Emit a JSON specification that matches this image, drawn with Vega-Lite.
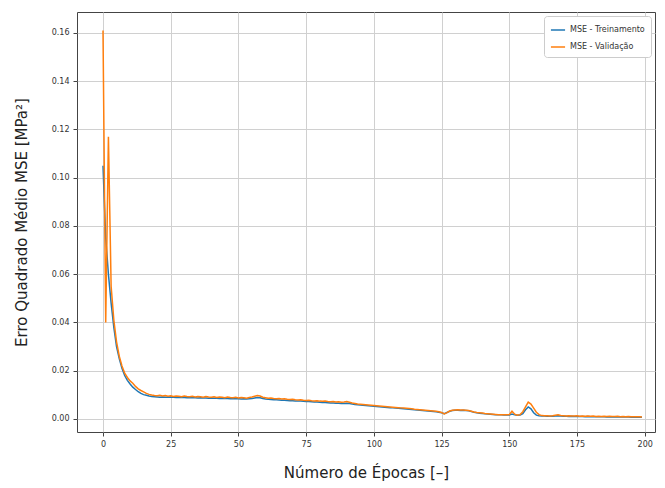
{
  "$schema": "https://vega.github.io/schema/vega-lite/v6.json",
  "width": 578,
  "height": 420,
  "autosize": {"type": "none"},
  "padding": {"left": 77, "top": 12, "right": 10, "bottom": 56},
  "background": "white",
  "config": {
    "font": "DejaVu Sans",
    "view": {"stroke": "#444444", "strokeWidth": 1},
    "axis": {
      "gridColor": "#d0d0d0",
      "gridWidth": 1,
      "domain": false,
      "tickColor": "#444444",
      "tickSize": 4,
      "labelFontSize": 8,
      "labelColor": "#333333",
      "titleFontSize": 15,
      "titleFontWeight": "normal",
      "titleColor": "#222222"
    }
  },
  "data": {
    "values": [
      {"e":0,"t":0.105,"v":0.161},{"e":1,"t":0.075,"v":0.040},{"e":2,"t":0.060,"v":0.117},{"e":3,"t":0.048,"v":0.055},
      {"e":4,"t":0.038,"v":0.041},{"e":5,"t":0.030,"v":0.032},{"e":6,"t":0.025,"v":0.026},{"e":7,"t":0.021,"v":0.022},
      {"e":8,"t":0.018,"v":0.019},{"e":9,"t":0.0160,"v":0.0172},{"e":10,"t":0.0145,"v":0.0158},{"e":11,"t":0.0132,"v":0.0148},
      {"e":12,"t":0.0122,"v":0.0135},{"e":13,"t":0.0113,"v":0.0125},{"e":14,"t":0.0106,"v":0.0118},{"e":15,"t":0.0101,"v":0.0112},
      {"e":16,"t":0.0098,"v":0.0106},{"e":17,"t":0.0095,"v":0.0102},{"e":18,"t":0.0093,"v":0.0099},{"e":19,"t":0.0092,"v":0.0097},
      {"e":20,"t":0.0091,"v":0.0096},{"e":21,"t":0.0090,"v":0.0098},{"e":22,"t":0.0091,"v":0.0095},{"e":23,"t":0.0090,"v":0.0097},
      {"e":24,"t":0.0090,"v":0.0094},{"e":25,"t":0.0091,"v":0.0096},{"e":26,"t":0.0090,"v":0.0093},{"e":27,"t":0.0089,"v":0.0095},
      {"e":28,"t":0.0090,"v":0.0094},{"e":29,"t":0.0089,"v":0.0092},{"e":30,"t":0.0089,"v":0.0095},{"e":31,"t":0.0088,"v":0.0093},
      {"e":32,"t":0.0089,"v":0.0092},{"e":33,"t":0.0088,"v":0.0094},{"e":34,"t":0.0088,"v":0.0091},{"e":35,"t":0.0087,"v":0.0093},
      {"e":36,"t":0.0088,"v":0.0092},{"e":37,"t":0.0087,"v":0.0090},{"e":38,"t":0.0087,"v":0.0093},{"e":39,"t":0.0086,"v":0.0091},
      {"e":40,"t":0.0087,"v":0.0090},{"e":41,"t":0.0086,"v":0.0092},{"e":42,"t":0.0086,"v":0.0089},{"e":43,"t":0.0085,"v":0.0091},
      {"e":44,"t":0.0086,"v":0.0090},{"e":45,"t":0.0085,"v":0.0088},{"e":46,"t":0.0085,"v":0.0091},{"e":47,"t":0.0084,"v":0.0089},
      {"e":48,"t":0.0085,"v":0.0088},{"e":49,"t":0.0084,"v":0.0090},{"e":50,"t":0.0084,"v":0.0087},{"e":51,"t":0.0083,"v":0.0089},
      {"e":52,"t":0.0084,"v":0.0088},{"e":53,"t":0.0083,"v":0.0086},{"e":54,"t":0.0084,"v":0.0089},{"e":55,"t":0.0085,"v":0.0091},
      {"e":56,"t":0.0087,"v":0.0094},{"e":57,"t":0.0089,"v":0.0097},{"e":58,"t":0.0088,"v":0.0095},{"e":59,"t":0.0085,"v":0.0090},
      {"e":60,"t":0.0083,"v":0.0088},{"e":61,"t":0.0082,"v":0.0086},{"e":62,"t":0.0081,"v":0.0087},{"e":63,"t":0.0080,"v":0.0085},
      {"e":64,"t":0.0080,"v":0.0084},{"e":65,"t":0.0079,"v":0.0085},{"e":66,"t":0.0078,"v":0.0083},{"e":67,"t":0.0078,"v":0.0084},
      {"e":68,"t":0.0077,"v":0.0082},{"e":69,"t":0.0076,"v":0.0081},{"e":70,"t":0.0076,"v":0.0082},{"e":71,"t":0.0075,"v":0.0080},
      {"e":72,"t":0.0074,"v":0.0079},{"e":73,"t":0.0074,"v":0.0080},{"e":74,"t":0.0073,"v":0.0078},{"e":75,"t":0.0072,"v":0.0077},
      {"e":76,"t":0.0072,"v":0.0078},{"e":77,"t":0.0071,"v":0.0076},{"e":78,"t":0.0070,"v":0.0075},{"e":79,"t":0.0070,"v":0.0076},
      {"e":80,"t":0.0069,"v":0.0074},{"e":81,"t":0.0068,"v":0.0073},{"e":82,"t":0.0068,"v":0.0074},{"e":83,"t":0.0067,"v":0.0072},
      {"e":84,"t":0.0066,"v":0.0071},{"e":85,"t":0.0066,"v":0.0072},{"e":86,"t":0.0065,"v":0.0070},{"e":87,"t":0.0065,"v":0.0071},
      {"e":88,"t":0.0064,"v":0.0069},{"e":89,"t":0.0064,"v":0.0070},{"e":90,"t":0.0065,"v":0.0072},{"e":91,"t":0.0064,"v":0.0069},
      {"e":92,"t":0.0062,"v":0.0066},{"e":93,"t":0.0060,"v":0.0064},{"e":94,"t":0.0059,"v":0.0062},{"e":95,"t":0.0058,"v":0.0061},
      {"e":96,"t":0.0057,"v":0.0060},{"e":97,"t":0.0056,"v":0.0059},{"e":98,"t":0.0055,"v":0.0058},{"e":99,"t":0.0054,"v":0.0057},
      {"e":100,"t":0.0053,"v":0.0056},{"e":101,"t":0.0052,"v":0.0055},{"e":102,"t":0.0051,"v":0.0054},{"e":103,"t":0.0050,"v":0.0053},
      {"e":104,"t":0.0049,"v":0.0052},{"e":105,"t":0.0048,"v":0.0051},{"e":106,"t":0.0047,"v":0.0050},{"e":107,"t":0.0046,"v":0.0049},
      {"e":108,"t":0.0045,"v":0.0048},{"e":109,"t":0.0044,"v":0.0047},{"e":110,"t":0.0043,"v":0.0046},{"e":111,"t":0.0042,"v":0.0045},
      {"e":112,"t":0.0041,"v":0.0044},{"e":113,"t":0.0040,"v":0.0043},{"e":114,"t":0.0039,"v":0.0042},{"e":115,"t":0.0038,"v":0.0040},
      {"e":116,"t":0.0037,"v":0.0039},{"e":117,"t":0.0036,"v":0.0038},{"e":118,"t":0.0035,"v":0.0037},{"e":119,"t":0.0034,"v":0.0036},
      {"e":120,"t":0.0033,"v":0.0035},{"e":121,"t":0.0032,"v":0.0034},{"e":122,"t":0.0031,"v":0.0033},{"e":123,"t":0.0030,"v":0.0032},
      {"e":124,"t":0.0028,"v":0.0030},{"e":125,"t":0.0026,"v":0.0027},{"e":126,"t":0.0022,"v":0.0021},{"e":127,"t":0.0027,"v":0.0026},
      {"e":128,"t":0.0032,"v":0.0033},{"e":129,"t":0.0035,"v":0.0036},{"e":130,"t":0.0036,"v":0.0037},{"e":131,"t":0.0036,"v":0.0038},
      {"e":132,"t":0.0035,"v":0.0037},{"e":133,"t":0.0036,"v":0.0037},{"e":134,"t":0.0035,"v":0.0036},{"e":135,"t":0.0034,"v":0.0035},
      {"e":136,"t":0.0031,"v":0.0032},{"e":137,"t":0.0028,"v":0.0029},{"e":138,"t":0.0026,"v":0.0027},{"e":139,"t":0.0024,"v":0.0026},
      {"e":140,"t":0.0023,"v":0.0025},{"e":141,"t":0.0022,"v":0.0023},{"e":142,"t":0.0021,"v":0.0022},{"e":143,"t":0.0020,"v":0.0021},
      {"e":144,"t":0.0019,"v":0.0020},{"e":145,"t":0.0018,"v":0.0019},{"e":146,"t":0.0017,"v":0.0018},{"e":147,"t":0.0017,"v":0.0018},
      {"e":148,"t":0.0016,"v":0.0017},{"e":149,"t":0.0016,"v":0.0017},{"e":150,"t":0.0016,"v":0.0018},{"e":151,"t":0.0020,"v":0.0032},
      {"e":152,"t":0.0017,"v":0.0020},{"e":153,"t":0.0015,"v":0.0016},{"e":154,"t":0.0016,"v":0.0018},{"e":155,"t":0.0022,"v":0.0030},
      {"e":156,"t":0.0038,"v":0.0050},{"e":157,"t":0.0050,"v":0.0070},{"e":158,"t":0.0042,"v":0.0062},{"e":159,"t":0.0026,"v":0.0045},
      {"e":160,"t":0.0016,"v":0.0028},{"e":161,"t":0.0013,"v":0.0018},{"e":162,"t":0.0012,"v":0.0014},{"e":163,"t":0.0012,"v":0.0013},
      {"e":164,"t":0.0011,"v":0.0013},{"e":165,"t":0.0011,"v":0.0012},{"e":166,"t":0.0011,"v":0.0013},{"e":167,"t":0.0012,"v":0.0015},
      {"e":168,"t":0.0013,"v":0.0017},{"e":169,"t":0.0012,"v":0.0014},{"e":170,"t":0.0011,"v":0.0013},{"e":171,"t":0.0011,"v":0.0012},
      {"e":172,"t":0.0010,"v":0.0013},{"e":173,"t":0.0011,"v":0.0012},{"e":174,"t":0.0010,"v":0.0012},{"e":175,"t":0.0010,"v":0.0013},
      {"e":176,"t":0.0010,"v":0.0011},{"e":177,"t":0.0010,"v":0.0012},{"e":178,"t":0.0009,"v":0.0011},{"e":179,"t":0.0010,"v":0.0012},
      {"e":180,"t":0.0009,"v":0.0011},{"e":181,"t":0.0009,"v":0.0012},{"e":182,"t":0.0009,"v":0.0010},{"e":183,"t":0.0009,"v":0.0011},
      {"e":184,"t":0.0009,"v":0.0010},{"e":185,"t":0.0009,"v":0.0011},{"e":186,"t":0.0008,"v":0.0010},{"e":187,"t":0.0009,"v":0.0011},
      {"e":188,"t":0.0008,"v":0.0010},{"e":189,"t":0.0008,"v":0.0010},{"e":190,"t":0.0008,"v":0.0011},{"e":191,"t":0.0008,"v":0.0009},
      {"e":192,"t":0.0008,"v":0.0010},{"e":193,"t":0.0008,"v":0.0009},{"e":194,"t":0.0008,"v":0.0010},{"e":195,"t":0.0007,"v":0.0009},
      {"e":196,"t":0.0008,"v":0.0009},{"e":197,"t":0.0007,"v":0.0009},{"e":198,"t":0.0007,"v":0.0009},{"e":199,"t":0.0007,"v":0.0008}
    ]
  },
  "transform": [
    {"fold": ["t", "v"], "as": ["k", "mse"]},
    {"calculate": "datum.k === 't' ? 'MSE - Treinamento' : 'MSE - Validação'", "as": "serie"}
  ],
  "mark": {"type": "line", "strokeWidth": 1.5, "clip": true},
  "encoding": {
    "x": {
      "field": "e",
      "type": "quantitative",
      "scale": {"domain": [-9.6, 203.8], "nice": false, "zero": false},
      "axis": {
        "values": [0, 25, 50, 75, 100, 125, 150, 175, 200],
        "title": "Número de Épocas [–]",
        "titlePadding": 17,
        "labelPadding": 4
      }
    },
    "y": {
      "field": "mse",
      "type": "quantitative",
      "scale": {"domain": [-0.0054, 0.1687], "nice": false, "zero": false},
      "axis": {
        "values": [0, 0.02, 0.04, 0.06, 0.08, 0.1, 0.12, 0.14, 0.16],
        "format": ".2f",
        "title": "Erro Quadrado Médio MSE [MPa²]",
        "titlePadding": 22,
        "labelPadding": 4
      }
    },
    "color": {
      "field": "serie",
      "type": "nominal",
      "scale": {"domain": ["MSE - Treinamento", "MSE - Validação"], "range": ["#1f77b4", "#ff7f0e"]},
      "legend": {
        "title": null,
        "orient": "top-right",
        "offset": 4,
        "symbolType": "stroke",
        "symbolStrokeWidth": 1.5,
        "symbolSize": 200,
        "labelFontSize": 8,
        "labelColor": "#333333",
        "fillColor": "white",
        "strokeColor": "#cccccc",
        "cornerRadius": 3,
        "padding": 6,
        "rowPadding": 5
      }
    }
  }
}
